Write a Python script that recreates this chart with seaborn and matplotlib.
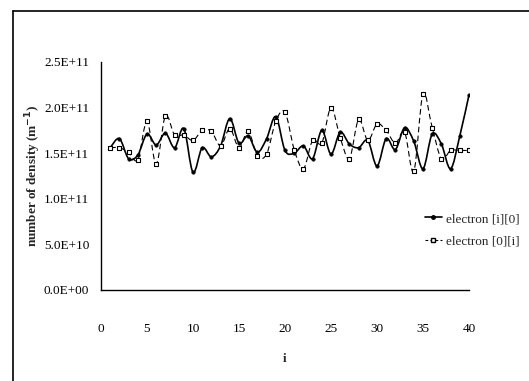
import numpy as np
import pandas as pd
import matplotlib
matplotlib.use("Agg")
import matplotlib.pyplot as plt
from matplotlib.path import Path
from matplotlib.patches import PathPatch
from matplotlib.lines import Line2D
import seaborn as sns

# ---- data ----
i_vals = list(range(1, 41))
electron_i0 = [1.56, 1.66, 1.44, 1.48, 1.71, 1.59, 1.72, 1.56, 1.77, 1.29,
               1.56, 1.46, 1.58, 1.88, 1.61, 1.69, 1.51, 1.66, 1.90, 1.53,
               1.50, 1.58, 1.44, 1.75, 1.49, 1.73, 1.60, 1.56, 1.64, 1.36,
               1.66, 1.54, 1.78, 1.63, 1.33, 1.71, 1.60, 1.33, 1.69, 2.14]
electron_0i = [1.56, 1.56, 1.51, 1.43, 1.85, 1.38, 1.91, 1.70, 1.70, 1.64,
               1.75, 1.74, 1.58, 1.77, 1.56, 1.74, 1.47, 1.49, 1.85, 1.95,
               1.54, 1.33, 1.64, 1.61, 2.00, 1.67, 1.44, 1.87, 1.64, 1.82,
               1.75, 1.61, 1.73, 1.30, 2.15, 1.78, 1.44, 1.53, 1.53, 1.53]
scale = 1e11
y_ticks = [0, 0.5e11, 1.0e11, 1.5e11, 2.0e11, 2.5e11]
y_tick_labels = ["0.0E+00", "5.0E+10", "1.0E+11", "1.5E+11", "2.0E+11", "2.5E+11"]
x_ticks = [0, 5, 10, 15, 20, 25, 30, 35, 40]
series_names = ["electron [i][0]", "electron [0][i]"]

df = pd.DataFrame({
    "i": i_vals * 2,
    "value": [v * scale for v in electron_i0] + [v * scale for v in electron_0i],
    "series": [series_names[0]] * 40 + [series_names[1]] * 40,
})

sns.set_theme(style="white")
plt.rcParams["font.family"] = ["Liberation Serif", "DejaVu Serif"]
FS = 9.5

fig = plt.figure(figsize=(5.29, 3.81), dpi=100)
ax = fig.add_axes([101 / 529, 1 - 290 / 381, (469 - 101) / 529, (290 - 62) / 381])


def smooth_path(xs, ys):
    xs = np.asarray(xs, float)
    ys = np.asarray(ys, float)
    pts = np.column_stack([xs, ys])
    verts = [pts[0]]
    codes = [Path.MOVETO]
    n = len(pts)
    for k in range(n - 1):
        p0 = pts[k - 1] if k > 0 else pts[k]
        p1 = pts[k]
        p2 = pts[k + 1]
        p3 = pts[k + 2] if k + 2 < n else pts[k + 1]
        c1 = p1 + (p2 - p0) / 6.0
        c2 = p2 - (p3 - p1) / 6.0
        verts += [c1, c2, p2]
        codes += [Path.CURVE4] * 3
    return Path(verts, codes)


d1 = df[df.series == series_names[0]]
d2 = df[df.series == series_names[1]]

ax.add_patch(PathPatch(smooth_path(d2["i"], d2["value"]), fill=False,
                       edgecolor="black", lw=0.8, linestyle=(0, (5, 3)), zorder=2))
ax.add_patch(PathPatch(smooth_path(d1["i"], d1["value"]), fill=False,
                       edgecolor="black", lw=1.2, zorder=3))

sns.scatterplot(data=d1, x="i", y="value", ax=ax, marker="o", s=6,
                color="black", edgecolor="black", linewidth=0.5, zorder=4, legend=False)
sns.scatterplot(data=d2, x="i", y="value", ax=ax, marker="s", s=10,
                facecolor="white", edgecolor="black", linewidth=0.8, zorder=5, legend=False)

ax.set_xlim(0, 40)
ax.set_ylim(0, 2.5e11)
ax.set_xticks(x_ticks)
ax.set_xticklabels([str(t) for t in x_ticks])
ax.set_yticks(y_ticks)
ax.set_yticklabels(y_tick_labels)
ax.tick_params(axis="both", length=0, labelsize=FS, colors="black")
ax.tick_params(axis="y", pad=8.5)
ax.tick_params(axis="x", pad=23.5)
for s in ["top", "right"]:
    ax.spines[s].set_visible(False)
for s in ["left", "bottom"]:
    ax.spines[s].set_color("black")
    ax.spines[s].set_linewidth(1.0)

ax.set_xlabel("i", fontsize=FS, fontweight="bold")
ax.xaxis.set_label_coords(0.5, (290 - 353) / 228)
ax.set_ylabel(r"number of density (m$^{\mathbf{-1}}$)", fontsize=FS, fontweight="bold")
ax.yaxis.set_label_coords((43 - 101) / 368, 0.5)
ax.set_facecolor("white")

# legend
handles = [
    Line2D([], [], color="black", lw=1.2, marker="o", markersize=2.5),
    Line2D([], [], color="black", lw=0.8, linestyle=(0, (2.5, 2)), marker="s",
           markersize=3.2, markerfacecolor="white", markeredgecolor="black"),
]
fig.legend(handles, series_names, loc="upper left", bbox_to_anchor=(413 / 529, 1 - 201 / 381),
           frameon=False, fontsize=FS, handlelength=1.3, handletextpad=0.3, labelspacing=0.75)

# outer border lines
fig.add_artist(Line2D([13 / 529, 13 / 529], [0, 1 - 11 / 381], transform=fig.transFigure,
                      color="black", lw=1.2))
fig.add_artist(Line2D([13 / 529, 1], [1 - 11 / 381, 1 - 11 / 381], transform=fig.transFigure,
                      color="black", lw=1.2))

fig.savefig("out.png", dpi=100)
